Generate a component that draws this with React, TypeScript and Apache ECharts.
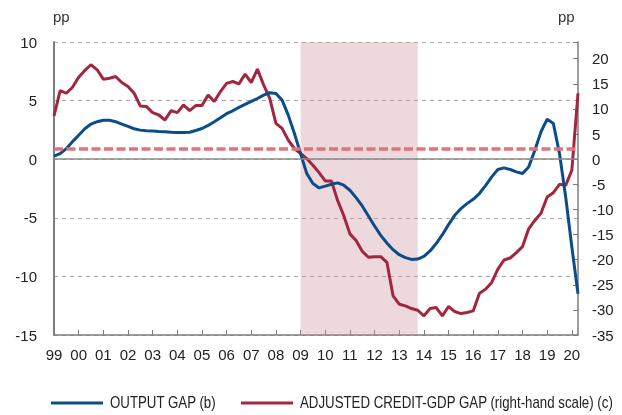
import React, { useEffect, useRef } from "react";
import * as echarts from "echarts";

// Quarterly observations, first quarter of 1999 onwards
const START_YEAR = 1999;
const yearTicks = [99, 0, 1, 2, 3, 4, 5, 6, 7, 8, 9, 10, 11, 12, 13, 14, 15, 16, 17, 18, 19, 20];

const outputGap = [
  0.26, 0.48, 0.9, 1.5,
  2.05, 2.6, 3.0, 3.2,
  3.33, 3.33, 3.2, 3.0,
  2.8, 2.6, 2.48, 2.42,
  2.4, 2.36, 2.34, 2.3,
  2.28, 2.28, 2.3, 2.45,
  2.62, 2.88, 3.2, 3.53,
  3.88, 4.13, 4.42, 4.67,
  4.93, 5.18, 5.47, 5.67,
  5.61, 5.04, 3.76, 2.19,
  0.48, -1.22, -2.08, -2.45,
  -2.3, -2.14, -2.02, -2.22,
  -2.65, -3.28, -3.99, -4.84,
  -5.7, -6.5, -7.15, -7.72,
  -8.15, -8.4, -8.55, -8.52,
  -8.3, -7.83, -7.2, -6.44,
  -5.58, -4.79, -4.22, -3.79,
  -3.42, -2.93, -2.25, -1.51,
  -0.88, -0.74, -0.88, -1.08,
  -1.22, -0.66, 0.77, 2.34,
  3.42, 3.05, 0.48, -3.22,
  -7.49, -11.48,
];

const creditGap = [
  8.6, 13.67, 13.13, 14.33,
  16.33, 17.67, 18.8, 17.8,
  15.93, 16.13, 16.47, 15.27,
  14.47, 13.13, 10.6, 10.47,
  9.27, 8.8, 7.8, 9.67,
  9.27, 10.8, 9.67, 10.67,
  10.67, 12.8, 11.47, 13.47,
  15.1, 15.47, 15.0, 16.93,
  15.27, 17.93, 14.8, 12.13,
  7.13, 6.13, 3.8, 2.13,
  1.13, 0.13, -1.2, -2.67,
  -4.33, -4.33, -8.2, -11.2,
  -14.87, -16.2, -18.33, -19.53,
  -19.4, -19.4, -20.53, -27.2,
  -28.87, -29.2, -29.73, -30.07,
  -31.2, -29.73, -29.53, -31.2,
  -29.33, -30.33, -30.73, -30.53,
  -30.2, -26.73, -25.87, -24.53,
  -21.87, -20.07, -19.67, -18.6,
  -17.4, -13.87, -12.2, -10.73,
  -7.53, -6.67, -5.0, -5.2,
  -2.2, 13.13,
];

const shadedPeriod = [2009, 2013.75];
const creditThreshold = 2;

const SERIES_NAMES = ["OUTPUT GAP (b)", "ADJUSTED CREDIT-GDP GAP (right-hand scale) (c)"];
const SERIES_COLORS = ["#0b4d8a", "#a3263f"];

const toPairs = (vals: number[]) => vals.map((v, i) => [START_YEAR + i / 4, v]);

const FONT = "'Liberation Sans', Arial, Helvetica, sans-serif";
const AXIS_GRAY = "#7d7d7d";

const legendItem = (x: number, color: string, label: string) => [
  {
    type: "line",
    shape: { x1: x, y1: 403, x2: x + 52, y2: 403 },
    style: { stroke: color, lineWidth: 3 },
    silent: true,
  },
  {
    type: "text",
    x: x + 59,
    y: 403,
    scaleX: 0.83,
    style: {
      text: label,
      fontFamily: FONT,
      fontSize: 16,
      fill: "#222",
      verticalAlign: "middle",
      align: "left",
    },
    silent: true,
  },
];

export default function App() {
  const ref = useRef<HTMLDivElement>(null);
  useEffect(() => {
    if (!ref.current) return;
    const chart = echarts.init(ref.current, undefined, { renderer: "svg" });
    const option = {
      animation: false,
      grid: { left: 54, right: 44, top: 42, bottom: 80 },
      graphic: [
        { type: "text", left: 53, top: 9, style: { text: "pp", fontFamily: FONT, fontSize: 15, fill: "#333" } },
        { type: "text", left: 558, top: 9, style: { text: "pp", fontFamily: FONT, fontSize: 15, fill: "#333" } },
        ...legendItem(51, SERIES_COLORS[0], SERIES_NAMES[0]),
        ...legendItem(241, SERIES_COLORS[1], SERIES_NAMES[1]),
      ],
      xAxis: {
        type: "value",
        min: START_YEAR,
        max: 2020.25,
        interval: 1,
        axisLine: { show: true, onZero: false, lineStyle: { color: AXIS_GRAY, width: 1.5 } },
        axisTick: { show: true, inside: true, length: 5, lineStyle: { color: AXIS_GRAY } },
        splitLine: { show: false },
        axisLabel: {
          margin: 12,
          fontFamily: FONT,
          fontSize: 15,
          color: "#222",
          showMaxLabel: false,
          formatter: (v: number) => {
            if (!Number.isInteger(v)) return "";
            const t = yearTicks[v - START_YEAR];
            return t === undefined ? "" : String(t).padStart(2, "0");
          },
        },
      },
      yAxis: [
        {
          type: "value",
          min: -15,
          max: 10,
          interval: 5,
          axisLine: { show: true, lineStyle: { color: AXIS_GRAY, width: 2 } },
          axisTick: { show: false },
          axisLabel: { margin: 17, fontFamily: FONT, fontSize: 15, color: "#222" },
          splitLine: { show: true, lineStyle: { color: "#a8a8a8", type: [4, 4], width: 1 } },
        },
        {
          type: "value",
          position: "right",
          min: -35,
          max: 70 / 3,
          interval: 5,
          axisLine: { show: true, lineStyle: { color: AXIS_GRAY, width: 1.5 } },
          axisTick: { show: true, inside: true, length: 5, lineStyle: { color: AXIS_GRAY } },
          axisLabel: {
            margin: 14,
            fontFamily: FONT,
            fontSize: 15,
            color: "#222",
            formatter: (v: number) => (Math.abs(v % 5) < 1e-6 ? String(v) : ""),
          },
          splitLine: { show: false },
        },
      ],
      series: [
        {
          type: "line",
          name: "shade",
          data: [],
          z: 1,
          silent: true,
          markArea: {
            silent: true,
            itemStyle: { color: "rgba(205,150,155,0.36)" },
            data: [[{ xAxis: shadedPeriod[0] }, { xAxis: shadedPeriod[1] }]],
          },
          markLine: {
            silent: true,
            symbol: "none",
            label: { show: false },
            lineStyle: { color: "#8a8a8a", type: "solid", width: 1.5 },
            data: [{ yAxis: 0 }],
          },
        },
        {
          type: "line",
          name: "threshold",
          yAxisIndex: 1,
          data: [],
          z: 2,
          silent: true,
          markLine: {
            silent: true,
            symbol: "none",
            label: { show: false },
            lineStyle: { color: "#e0737f", type: [9, 3.5], width: 3.5 },
            data: [{ yAxis: creditThreshold }],
          },
        },
        {
          type: "line",
          name: SERIES_NAMES[0],
          data: toPairs(outputGap),
          showSymbol: false,
          z: 4,
          lineStyle: { color: SERIES_COLORS[0], width: 3 },
          itemStyle: { color: SERIES_COLORS[0] },
        },
        {
          type: "line",
          name: SERIES_NAMES[1],
          yAxisIndex: 1,
          data: toPairs(creditGap),
          showSymbol: false,
          z: 3,
          lineStyle: { color: SERIES_COLORS[1], width: 3 },
          itemStyle: { color: SERIES_COLORS[1] },
        },
      ],
    };
    chart.setOption(option as any);
    return () => chart.dispose();
  }, []);
  return <div ref={ref} style={{ position: "fixed", left: 0, top: 0, width: 622, height: 415 }} />;
}
